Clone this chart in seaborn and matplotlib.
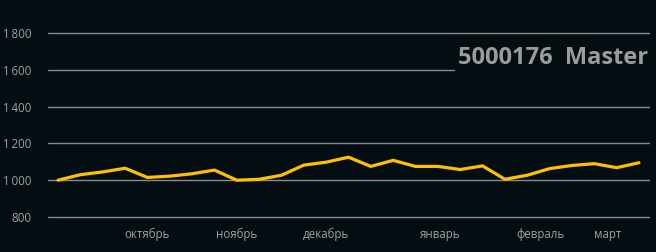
import matplotlib
matplotlib.use("Agg")
import matplotlib.pyplot as plt
import seaborn as sns
import pandas as pd

values = [1000, 1030, 1045, 1065, 1015, 1022, 1035, 1055, 1000, 1005, 1027,
          1082, 1098, 1125, 1075, 1108, 1075, 1075, 1058, 1078, 1005, 1027,
          1063, 1080, 1090, 1068, 1095]
month_labels = ["октябрь", "ноябрь", "декабрь", "январь", "февраль", "март"]
month_pos = [4.0, 8.0, 12.0, 17.1, 21.6, 24.6]
y_ticks = [800, 1000, 1200, 1400, 1600, 1800]
title = "5000176  Master"

df = pd.DataFrame({"idx": range(len(values)), "value": values})

bg = "#040d11"
sns.set_style("dark")
plt.rcParams["font.family"] = ["Open Sans", "DejaVu Sans"]

fig = plt.figure(figsize=(6.56, 2.52), dpi=100, facecolor=bg)
ax = fig.add_axes([48 / 656, 1 - 217 / 252, (649 - 48) / 656, (217 - 33) / 252])
ax.set_facecolor(bg)

for yv in y_ticks:
    ax.axhline(yv, color="#8a8a8a", lw=1.0, zorder=1, clip_on=False)

sns.lineplot(data=df, x="idx", y="value", ax=ax, color="#FFC000", lw=2.3, zorder=3)

ax.set_xlim(-0.45, len(values) - 1 + 0.45)
ax.set_ylim(800, 1800)
ax.set_yticks(y_ticks)
ax.set_yticklabels([f"{v:,}".replace(",", "\u2009") if v >= 1000 else str(v) for v in y_ticks])
ax.set_xticks(month_pos)
ax.set_xticklabels(month_labels)
ax.tick_params(axis="both", length=0, colors="#a0a0a0", labelsize=8.3)
ax.tick_params(axis="y", pad=12)
ax.tick_params(axis="x", pad=8)
ax.set_xlabel("")
ax.set_ylabel("")
for s in ax.spines.values():
    s.set_visible(False)
ax.grid(False)

ax.text(0.999, 0.864, title, transform=ax.transAxes, ha="right", va="center",
        fontsize=17, fontweight="bold", color="#9b9b9b", zorder=5,
        bbox=dict(facecolor=bg, edgecolor="none", pad=2.5))

fig.savefig("out.png", dpi=100, facecolor=bg)
